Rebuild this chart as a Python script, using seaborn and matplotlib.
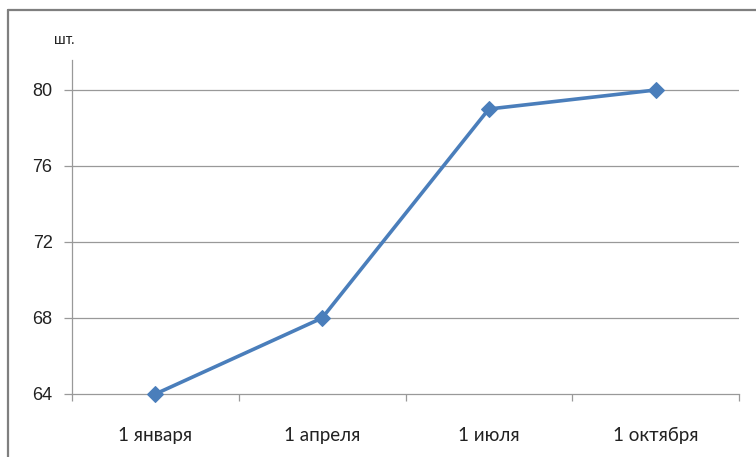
import matplotlib
matplotlib.use("Agg")
import matplotlib.pyplot as plt
import seaborn as sns
import numpy as np
from matplotlib.lines import Line2D

categories = ["1 января", "1 апреля", "1 июля", "1 октября"]
values = [64, 68, 79, 80]
yticks = [64, 68, 72, 76, 80]

sns.set_theme(style="white")
plt.rcParams['font.family'] = ['Liberation Sans', 'DejaVu Sans']

W, H = 756, 457
fig = plt.figure(figsize=(W / 100, H / 100), dpi=100)
ax = fig.add_axes([72 / W, 1 - 394 / H, (739 - 72) / W, (394 - 60) / H])

pos = np.arange(len(categories))
sns.lineplot(x=pos, y=values, ax=ax, color="#4A7EBB", linewidth=2.6,
             marker="D", markersize=8.5, markeredgecolor="#4A7EBB", zorder=5, clip_on=False)

ax.set_xlim(-0.5, len(categories) - 0.5)
ax.set_ylim(64, 64 + 16 * (334 / 304))
ax.set_yticks(yticks)
ax.set_yticklabels([str(v) for v in yticks], fontsize=13, color="#222222")
ax.set_xticks(pos)
ax.set_xticklabels(categories, fontsize=13.5, color="#222222", family=["Lato", "DejaVu Sans"])
ax.tick_params(axis="x", length=0, pad=24)
ax.set_xticks(np.arange(-0.5, len(categories)), minor=True)
ax.tick_params(axis="x", which="minor", length=5, width=0.9, color="#999999", direction="out", bottom=True)
ax.tick_params(axis="y", length=6, width=0.9, color="#999999", direction="out", left=True, pad=8)

for v in yticks[1:]:
    ax.axhline(v, color="#999999", linewidth=0.9, zorder=1)

for s in ["top", "right"]:
    ax.spines[s].set_visible(False)
for s in ["left", "bottom"]:
    ax.spines[s].set_color("#999999")
    ax.spines[s].set_linewidth(0.9)
ax.set_xlabel("")
ax.set_ylabel("")
ax.grid(False)

fig.text(64 / W, 1 - 40 / H, "шт.", fontsize=10.5, ha="center", va="center", color="#222222")

fig.add_artist(Line2D([8 / W, 1.0], [1 - 10 / H, 1 - 10 / H], transform=fig.transFigure, color="#7f7f7f", linewidth=1.6))
fig.add_artist(Line2D([8 / W, 8 / W], [0, 1 - 10 / H], transform=fig.transFigure, color="#7f7f7f", linewidth=1.6))

fig.savefig("out.png", dpi=100, facecolor="white")
